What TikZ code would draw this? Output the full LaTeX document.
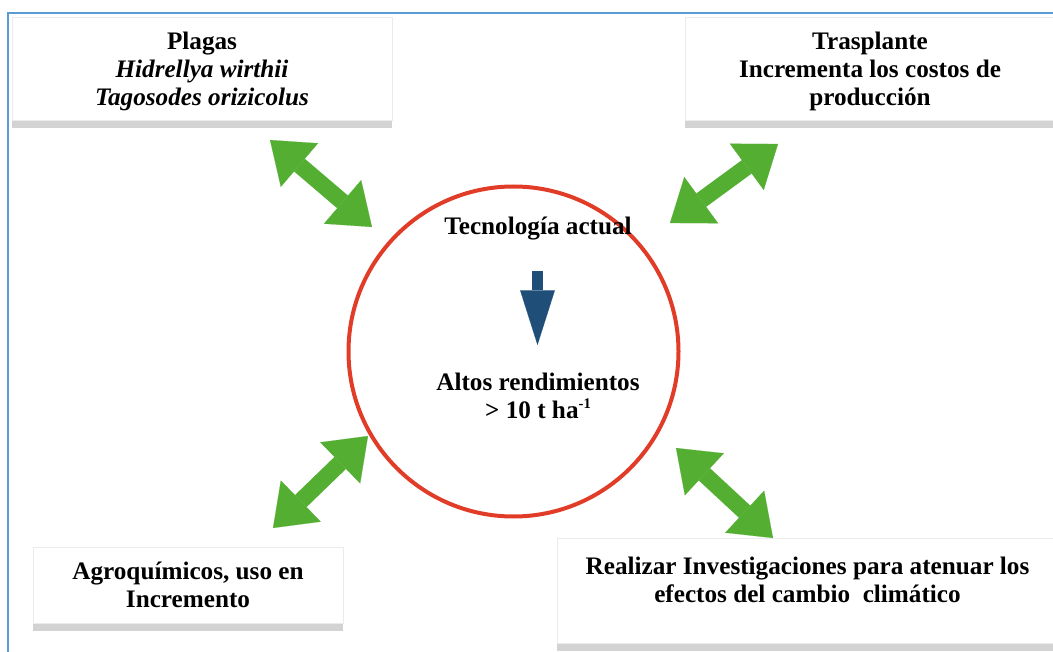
\documentclass[tikz,border=0pt]{standalone}
\usepackage{fontspec}
\setmainfont{Liberation Serif}
\usetikzlibrary{arrows.meta, shadows}

\definecolor{framebl}{RGB}{91,155,213}
\definecolor{ringred}{RGB}{224,60,40}
\definecolor{leafgreen}{RGB}{83,174,50}
\definecolor{deepblue}{RGB}{31,78,121}

\begin{document}
\begin{tikzpicture}[x=0.75pt, y=-0.75pt, >=Latex,
    box/.style={fill=white, draw=black!8, align=center, inner sep=3pt, text depth=0pt,
                font=\fontsize{18.9}{21}\selectfont\bfseries,
                drop shadow={shadow xshift=0pt, shadow yshift=-6pt, opacity=0.35}},
    txt/.style={align=center, font=\fontsize{18.9}{21}\selectfont\bfseries},
    dbl/.style={draw=leafgreen, line width=12.5pt,
                {Triangle[length=29pt,width=43pt,line width=0.1pt]}-{Triangle[length=29pt,width=43pt,line width=0.1pt]}}]
    \useasboundingbox (0,0) rectangle (1053,652);
    \clip (0,0) rectangle (1053,652);
    \draw[framebl, line width=1.5pt] (8,13) rectangle (1065,665);

    \node[box, minimum width=285pt, minimum height=77.25pt] (plagas) at (202,68.5)
      {Plagas\\\textit{Hidrellya wirthii}\\\textit{Tagosodes orizicolus}};
    \node[box, minimum width=277.5pt, minimum height=77.25pt] (trasp) at (870,68.5)
      {Trasplante\\Incrementa los costos de\\producción};
    \node[box, minimum width=232.5pt, minimum height=57pt] (agro) at (188,585)
      {Agroquímicos, uso en\\Incremento};
    \node[box, minimum width=375.75pt, minimum height=78.75pt, text depth=16pt] (invest) at (807.5,590.5)
      {Realizar Investigaciones para atenuar los\\efectos del cambio\ \ climático};

    \node[circle, draw=ringred, line width=3pt, minimum size=247.5pt] (ring) at (513.5,351.5) {};
    \node[txt] (tech) at (538,229) {Tecnología actual};
    \node[txt] (yield) at (538,396)
      {Altos rendimientos\\> 10 t ha\raisebox{0.4em}{\fontsize{11}{11}\selectfont -1}};
    \coordinate (down1) at (537.5,271);
    \coordinate (down2) at (537.5,345);
    \draw[deepblue, line width=8pt, -{Triangle[length=41pt,width=26pt,line width=0.1pt]}] (down1) -- (down2);

    \coordinate (pl1) at (270,140); \coordinate (pl2) at (372,227);
    \coordinate (tr1) at (778,144); \coordinate (tr2) at (670,223);
    \coordinate (ag1) at (368,436); \coordinate (ag2) at (273,528);
    \coordinate (in1) at (676,448); \coordinate (in2) at (773,538);
    \draw[dbl] (pl1) -- (pl2); \draw[dbl] (tr1) -- (tr2);
    \draw[dbl] (ag1) -- (ag2); \draw[dbl] (in1) -- (in2);
  \end{tikzpicture}
\end{document}
